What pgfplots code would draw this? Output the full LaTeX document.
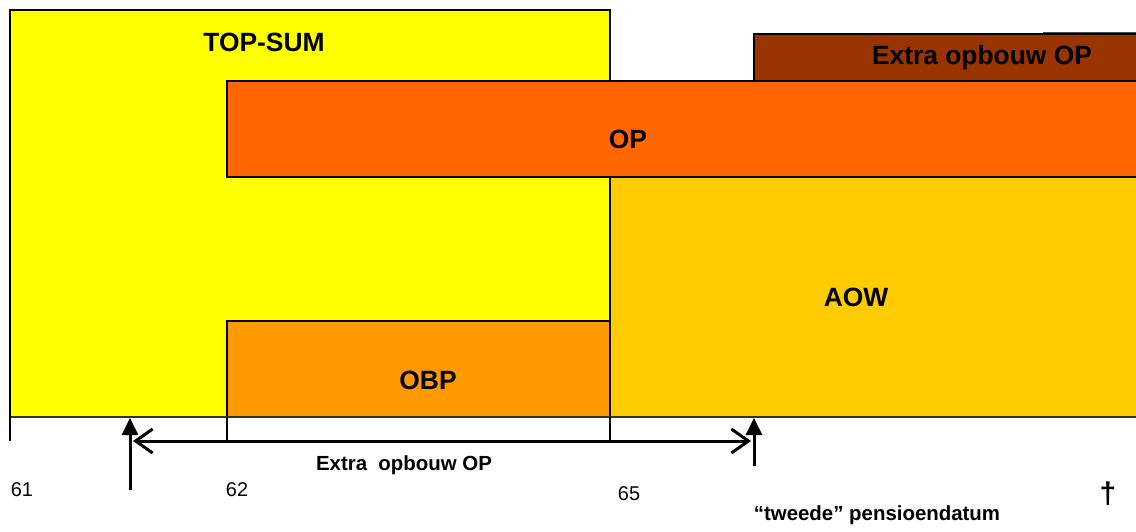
\documentclass[border=0pt]{standalone}
\usepackage{pgfplots}
\pgfplotsset{compat=1.18}
\usepackage{fontspec}
\setmainfont{Liberation Sans}
\usetikzlibrary{arrows.meta}
\definecolor{cyellow}{HTML}{FFFF00}
\definecolor{cop}{HTML}{FF6600}
\definecolor{caow}{HTML}{FFCC00}
\definecolor{cobp}{HTML}{FF9900}
\definecolor{cextra}{HTML}{993300}
\begin{document}
\begin{tikzpicture}
\begin{axis}[
  scale only axis, width=1136bp, height=532bp,
  xmin=0, xmax=1136, ymin=0, ymax=532, y dir=reverse,
  hide axis, clip=false,
]
\addplot[draw=none] coordinates {(0,0) (1136,532)};
% TOP-SUM
\addplot[fill=cyellow, draw=black, line width=2bp] coordinates {(10,10) (610,10) (610,417) (10,417)} -- cycle;
% OBP
\addplot[fill=cobp, draw=black, line width=2bp] coordinates {(227,321) (610,321) (610,417) (227,417)} -- cycle;
% AOW
\addplot[fill=caow, draw=black, line width=2bp] coordinates {(610,177) (1140,177) (1140,417) (610,417)} -- cycle;
% OP
\addplot[fill=cop, draw=black, line width=2bp] coordinates {(227,81) (1140,81) (1140,177) (227,177)} -- cycle;
% Extra opbouw OP
\addplot[fill=cextra, draw=black, line width=2bp] coordinates {(754,34) (1140,34) (1140,81) (754,81)} -- cycle;
\addplot[draw=black!70, line width=1.2bp] coordinates {(1043,32.5) (1136,32.5)};
% baseline and ticks
\addplot[draw=black!80, line width=2bp] coordinates {(10,417) (1136,417)};
\addplot[draw=black, line width=2.2bp] coordinates {(10,10) (10,441)};
\addplot[draw=black, line width=2.2bp] coordinates {(227,417) (227,441)};
\addplot[draw=black, line width=2.2bp] coordinates {(610,417) (610,441)};
% double arrow
\addplot[draw=black, line width=3bp, {Straight Barb[length=17bp,width=24bp,line width=3bp]}-{Straight Barb[length=17bp,width=24bp,line width=3bp]}] coordinates {(133,441) (751,441)};
% up arrows
\addplot[draw=black, line width=3bp, -{Triangle[length=17bp,width=16bp]}] coordinates {(130,490) (130,418)};
\addplot[draw=black, line width=3bp, -{Triangle[length=17bp,width=16bp]}] coordinates {(754,466) (754,418)};
% labels
\node[font=\bfseries\fontsize{26.5}{30}\selectfont] at (axis cs:264,42) {TOP-SUM};
\node[font=\bfseries\fontsize{26.5}{30}\selectfont] at (axis cs:628,139) {OP};
\node[font=\bfseries\fontsize{26.5}{30}\selectfont] at (axis cs:856,297) {AOW};
\node[font=\bfseries\fontsize{26.5}{30}\selectfont] at (axis cs:428,380) {OBP};
\node[font=\bfseries\fontsize{26.5}{30}\selectfont] at (axis cs:982,58) {Extra opbouw OP};
\node[font=\bfseries\fontsize{20.5}{24}\selectfont] at (axis cs:404,465) {Extra\ \ opbouw OP};
\node[font=\bfseries\fontsize{20.5}{24}\selectfont] at (axis cs:877,515) {“tweede” pensioendatum};
\node[font=\fontsize{20}{22}\selectfont] at (axis cs:22,490) {61};
\node[font=\fontsize{20}{22}\selectfont] at (axis cs:237,490) {62};
\node[font=\fontsize{20}{22}\selectfont] at (axis cs:629,494) {65};
\node[font=\bfseries\fontsize{30}{32}\selectfont] at (axis cs:1108,494) {†};
\end{axis}
\pgfresetboundingbox
\path (current axis.south west) rectangle (current axis.north east);
\end{tikzpicture}
\end{document}
